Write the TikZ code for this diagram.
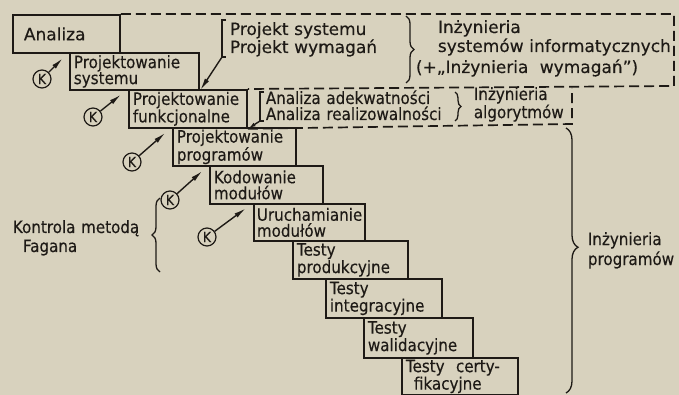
\documentclass[tikz,border=0pt]{standalone}
\usepackage{fontspec}
\setmainfont{DejaVu Sans}[FakeStretch=0.89, FakeBold=0.3]
\newfontfamily\widefont{DejaVu Sans}[FakeBold=0.3]
\usetikzlibrary{arrows.meta, decorations.pathreplacing}

\definecolor{paper}{RGB}{216,210,190}
\definecolor{ink}{RGB}{30,26,22}
\lineskiplimit=-20pt

\tikzset{
  stage/.style 2 args={draw, anchor=north west, align=left, inner xsep=4pt, inner ysep=0pt,
    minimum width=#1, minimum height=#2, text width=#1pt-8pt},
  kmark/.style={circle, draw, line width=1.2pt, inner sep=0pt, minimum size=18pt,
    font=\fontsize{14}{14}\selectfont},
  karrow/.style={-{Latex[length=12pt,width=5pt]}, line width=1.4pt, shorten >=9pt},
  zone/.style={line width=1.7pt, dash pattern=on 10pt off 5pt},
  bracket/.style={line width=1.3pt},
  note/.style={anchor=base west, align=left, inner sep=0pt, text width=#1},
}

\begin{document}
\begin{tikzpicture}[x=1pt, y=-1pt, font=\fontsize{17}{16}\selectfont, color=ink, line width=1.8pt]

\fill[paper] (0,0) rectangle (679,395);
\useasboundingbox (0,0) rectangle (679,395);

% stages of the cascade
\node[stage={107}{38}, inner xsep=11pt, text width=85pt, font=\widefont\fontsize{17}{16}\selectfont] (an) at (12,14) {Analiza};
\node[stage={129}{37}] (ps) at (69,52) {Projektowanie\\systemu};
\node[stage={118}{38}] (pf) at (128,89) {Projektowanie\\funkcjonalne};
\node[stage={123}{38}] (pp) at (172,127) {Projektowanie\\programów};
\node[stage={113}{38}] (km) at (209,165) {Kodowanie\\modułów};
\node[stage={111}{37}, inner xsep=3pt, text width=105pt] (um) at (253,203) {Uruchamianie\\modułów};
\node[stage={115}{38}] (tp) at (292,240) {Testy\\produkcyjne};
\node[stage={116}{39}] (ti) at (325,278) {Testy\\integracyjne};
\node[stage={109}{40}] (tw) at (363,317) {Testy\\walidacyjne};
\node[stage={116}{37}] (tc) at (401,357) {Testy\ \ certy-\\\hspace*{8pt}fikacyjne};

% Fagan inspections
\node[kmark] (k1) at (42,79) {K};
\node[kmark] (k2) at (93,117) {K};
\node[kmark] (k3) at (132,162) {K};
\node[kmark] (k4) at (170,200) {K};
\node[kmark] (k5) at (207,237) {K};

\draw[karrow] (k1) -- (ps.north west);
\draw[karrow] (k2) -- (pf.north west);
\draw[karrow] (k3) -- (pp.north west);
\draw[karrow] (k4) -- (km.north west);
\draw[karrow] (k5) -- (um.north west);

% dashed zones
\coordinate (sysne) at (674,14);
\coordinate (sysse) at (674,86);
\coordinate (algne) at (572,88);
\coordinate (algse) at (572,124);
\draw[zone] (an.north east) -- (sysne) -- (sysse) -- (pf.north east);
\draw[zone] (pf.south east) -- (algse) -- (algne);

% brackets with arrows
\coordinate (pjbr) at (222,57);
\draw[bracket] (226,20) -- (222,20) -- (pjbr) -- (226,57);
\draw[karrow, shorten >=1pt] (pjbr) -- (ps.south east);

\coordinate (anbr) at (260,121);
\draw[bracket] (264,92) -- (260,92) -- (anbr) -- (264,121);
\draw[karrow, -{Latex[length=7pt,width=4pt]}, shorten >=1pt] (anbr) -- (pf.south east);

% braces
\draw[bracket, decorate, decoration={brace, amplitude=8pt}] (406,16) -- (406,83);
\draw[bracket, decorate, decoration={brace, amplitude=6pt}] (455,92) -- (455,121);
\draw[bracket, decorate, decoration={brace, amplitude=8pt}] (160,272) -- (160,198);
\draw[bracket, decorate, decoration={brace, amplitude=12pt, aspect=0.45}] (566,128) -- (566,393);

% labels
\node[note=170pt, font=\widefont\fontsize{17}{18}\selectfont] (proj) at (229,35) {Projekt systemu\\Projekt wymagań};
\node[note=240pt, font=\widefont\fontsize{17}{19}\selectfont] (isi) at (437,33) {Inżynieria\\systemów informatycznych};
\node[note=240pt, font=\widefont\fontsize{17}{19}\selectfont] (iw) at (415,73) {(+„Inżynieria\ \ wymagań”)};
\node[note=180pt] (anal) at (265,104) {Analiza adekwatności\\Analiza realizowalności};
\node[note=100pt] (ia) at (473,100) {Inżynieria\\algorytmów};
\node[note=150pt, font=\fontsize{17}{19}\selectfont] (kon) at (12,233) {Kontrola metodą\\\hspace*{10pt}Fagana};
\node[note=90pt, font=\fontsize{17}{20}\selectfont] (ip) at (587,245) {Inżynieria\\programów};

\end{tikzpicture}
\end{document}
